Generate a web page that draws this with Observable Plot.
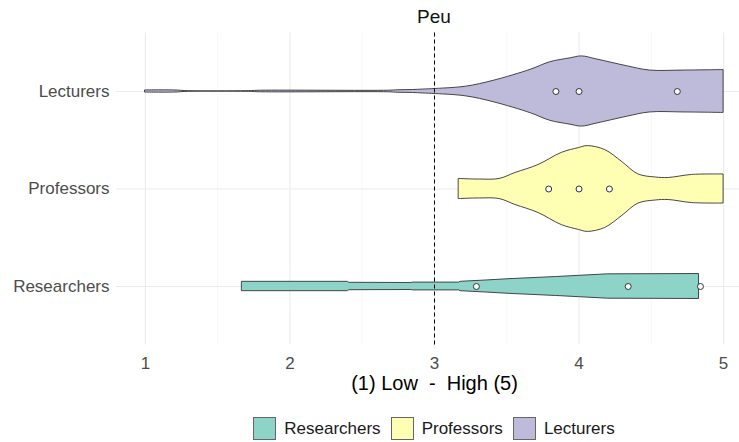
<!DOCTYPE html>
<html>
<head>
<meta charset="utf-8">
<script src="https://cdn.jsdelivr.net/npm/d3@7"></script>
<script src="https://cdn.jsdelivr.net/npm/@observablehq/plot@0.6"></script>
<style>
  html, body { margin: 0; padding: 0; background: #fff; overflow: hidden; }
  #chart { position: relative; width: 739px; height: 442px; overflow: hidden;
           font-family: "Liberation Sans", Arial, sans-serif; }
  #title { width: 636px; padding-left: 116px; height: 22.5px; padding-top: 7.5px;
           text-align: center; font-size: 19px; line-height: 18px; color: #111; }
  #legend { width: 752px; display: flex; justify-content: center; align-items: center;
            padding-left: 116px; box-sizing: border-box; padding-top: 9px; }
  .item { display: flex; align-items: center; margin: 0 5px; }
  .key { width: 23px; height: 23px; box-sizing: border-box; border: 1px solid #666; margin-right: 8px; }
  .label { font-size: 17px; color: #1a1a1a; }
</style>
</head>
<body>
<div id="chart">
  <div id="title">Peu</div>
  <div id="plot"></div>
  <div id="legend"></div>
</div>
<script>
// Groups, bottom to top on the y axis, and their fills
const categories = ["Researchers", "Professors", "Lecturers"];
const fills = ["#8DD3C7", "#FFFFB3", "#BEBADA"];
const xTicks = [1, 2, 3, 4, 5];
const xMinorTicks = [1.5, 2.5, 3.5, 4.5];
const xTitle = "(1) Low  -  High (5)";
const refLine = [3];

// Violin outlines: score along x and half-width (in units of category spacing)
const researchersValue = [1.67, 2.40, 2.41, 2.84, 2.85, 3.17, 3.18, 3.36, 3.54, 3.84, 4.20, 4.83];
const researchersHalf  = [0.048, 0.048, 0.038, 0.036, 0.040, 0.040, 0.048, 0.062, 0.077, 0.097, 0.125, 0.128];

const professorsValue = [3.17, 3.31, 3.45, 3.56, 3.72, 3.88, 4.00, 4.06, 4.18, 4.30, 4.41, 4.53, 4.62, 4.78, 5.00];
const professorsHalf  = [0.103, 0.097, 0.103, 0.164, 0.246, 0.370, 0.420, 0.440, 0.400, 0.275, 0.150, 0.118, 0.113, 0.144, 0.149];

const lecturersValue = [1.00, 1.20, 1.30, 1.70, 1.80, 2.68, 2.75, 2.85, 2.92, 3.01, 3.22, 3.41, 3.67, 3.80, 3.94, 4.02, 4.12, 4.33, 4.49, 4.73, 5.00];
const lecturersHalf  = [0.011, 0.011, 0.003, 0.003, 0.008, 0.008, 0.013, 0.015, 0.020, 0.026, 0.050, 0.110, 0.225, 0.300, 0.340, 0.360, 0.330, 0.260, 0.215, 0.215, 0.220];

// Summary points drawn over each violin
const researchersPoints = [3.29, 4.34, 4.84];
const professorsPoints  = [3.79, 4.00, 4.21];
const lecturersPoints   = [3.84, 4.00, 4.68];

const outlines = {
  Researchers: [researchersValue, researchersHalf],
  Professors: [professorsValue, professorsHalf],
  Lecturers: [lecturersValue, lecturersHalf]
};
const pointSets = {
  Researchers: researchersPoints,
  Professors: professorsPoints,
  Lecturers: lecturersPoints
};
// Researchers keep straight edges; the denser groups get a smooth outline
const curves = {Researchers: "linear", Professors: "catmull-rom", Lecturers: "catmull-rom"};
const position = cat => categories.indexOf(cat) + 1;

const outlineRows = cat => {
  const [vals, halves] = outlines[cat];
  return vals.map((v, i) => ({cat, value: v, half: halves[i], pos: position(cat)}));
};
const pointRows = categories.flatMap(cat =>
  pointSets[cat].map(v => ({cat, value: v, pos: position(cat)})));

const violins = categories.map(cat =>
  Plot.areaY(outlineRows(cat), {
    x: "value",
    y1: d => d.pos - d.half,
    y2: d => d.pos + d.half,
    fill: "cat",
    stroke: "#333",
    strokeWidth: 0.9,
    curve: curves[cat]
  }));

const plot = Plot.plot({
  width: 752,
  height: 378,
  marginLeft: 116,
  marginRight: 0,
  marginTop: 2.5,
  marginBottom: 63.5,
  x: {domain: [0.8, 5.2]},
  y: {domain: [0.4, 3.6]},
  color: {domain: categories, range: fills},
  style: {
    fontFamily: "'Liberation Sans', Arial, sans-serif",
    maxWidth: "none",
    color: "#4D4D4D",
    background: "white"
  },
  marks: [
    Plot.ruleX(xMinorTicks, {stroke: "#F2F2F2", strokeWidth: 0.6}),
    Plot.ruleX(xTicks, {stroke: "#EBEBEB", strokeWidth: 1.1}),
    Plot.ruleY([1, 2, 3], {stroke: "#EBEBEB", strokeWidth: 1.1}),
    ...violins,
    Plot.ruleX(refLine, {stroke: "black", strokeWidth: 1, strokeDasharray: "4,3"}),
    Plot.dot(pointRows, {x: "value", y: "pos", r: 3, fill: "white", stroke: "#333", strokeWidth: 1}),
    Plot.axisX({ticks: xTicks, tickFormat: d => String(d), tickSize: 0, tickPadding: 12, fontSize: 17, label: null}),
    Plot.axisY({ticks: [1, 2, 3], tickFormat: i => categories[i - 1], tickSize: 0, tickPadding: 7, fontSize: 17, label: null}),
    Plot.text([xTitle], {text: d => d, frameAnchor: "bottom", dy: 45, fontSize: 20, fill: "black"})
  ]
});
document.getElementById("plot").appendChild(plot);

// Legend below the plot
const legend = document.getElementById("legend");
categories.forEach((cat, i) => {
  const item = document.createElement("div");
  item.className = "item";
  const key = document.createElement("div");
  key.className = "key";
  key.style.background = fills[i];
  const label = document.createElement("span");
  label.className = "label";
  label.textContent = cat;
  item.appendChild(key);
  item.appendChild(label);
  legend.appendChild(item);
});
</script>
</body>
</html>
